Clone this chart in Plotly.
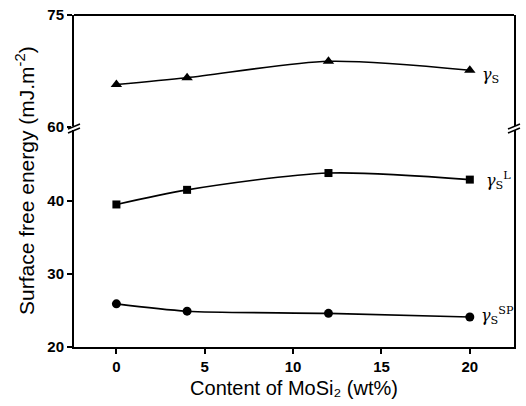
import plotly.graph_objects as go

# Data
content = [0, 4, 12, 20]
gamma_s = [65.7, 66.6, 68.8, 67.6]
gamma_sL = [39.5, 41.5, 43.8, 42.9]
gamma_sSP = [25.9, 24.9, 24.6, 24.1]

x_ticks = [0, 5, 10, 15, 20]
y_low_ticks = [20, 30, 40]
y_up_ticks = [60, 75]

D = 0.6627  # break position (paper)

fig = go.Figure()
line = dict(color="black", width=1.6, shape="spline", smoothing=0.8)
fig.add_trace(go.Scatter(x=content, y=gamma_s, mode="lines+markers", yaxis="y2",
                         line=line, marker=dict(symbol="triangle-up", size=10, color="black")))
fig.add_trace(go.Scatter(x=content, y=gamma_sL, mode="lines+markers",
                         line=line, marker=dict(symbol="square", size=8, color="black")))
fig.add_trace(go.Scatter(x=content, y=gamma_sSP, mode="lines+markers",
                         line=line, marker=dict(symbol="circle", size=9, color="black")))

tickfont = dict(family="Liberation Sans", size=15, color="black", weight="bold")
ax_common = dict(showline=True, linecolor="black", linewidth=2, showgrid=False, zeroline=False,
                 ticks="outside", ticklen=5, tickwidth=1.5, tickcolor="black", tickfont=tickfont,
                 automargin=False)

fig.update_layout(
    width=526, height=406,
    margin=dict(l=74, r=12, t=15, b=59, autoexpand=False),
    paper_bgcolor="white", plot_bgcolor="white",
    showlegend=False,
    xaxis=dict(range=[-2.4, 22.5], tickvals=x_ticks, anchor="y", mirror=False,
               title=dict(text="Content of MoSi₂ (wt%)",
                          font=dict(family="Liberation Sans", size=20, color="black"), standoff=7),
               **ax_common),
    yaxis=dict(domain=[0, D], range=[20, 50.1], tickvals=y_low_ticks, anchor="x", mirror=True, **ax_common),
    yaxis2=dict(domain=[D, 1], range=[60, 75], tickvals=y_up_ticks, anchor="x", mirror=True, **ax_common),
)

# Y title centered across both segments
fig.add_annotation(text="Surface free energy (mJ.m<sup>-2</sup>)", xref="paper", yref="paper",
                   x=0, y=0.5, xshift=-49, xanchor="center", yanchor="middle", textangle=-90,
                   showarrow=False, font=dict(family="Liberation Sans", size=21, color="black"))

# Series labels
lab_font = dict(family="DejaVu Serif", size=16, color="black")
fig.add_annotation(text="<i>γ</i><sub>S</sub>", x=20.6, y=gamma_s[-1], yref="y2", xref="x",
                   xanchor="left", yanchor="middle", yshift=-5, showarrow=False, font=lab_font)
fig.add_annotation(text="<i>γ</i><sub>S</sub><sup>L</sup>", x=20.8, y=gamma_sL[-1], yref="y", xref="x",
                   xanchor="left", yanchor="middle", yshift=-1, showarrow=False, font=lab_font)
fig.add_annotation(text="<i>γ</i><sub>S</sub><sup>SP</sup>", x=20.5, y=gamma_sSP[-1], yref="y", xref="x",
                   xanchor="left", yanchor="middle", yshift=2, showarrow=False, font=lab_font)

# Top frame line
fig.add_shape(type="line", xref="paper", yref="paper", x0=0, x1=1, y0=1, y1=1,
              line=dict(color="black", width=2))

# Break marks on both vertical axes
for xa in (0, 1):
    fig.add_shape(type="rect", xref="paper", yref="paper", xsizemode="pixel", ysizemode="pixel",
                  xanchor=xa, yanchor=D, x0=-3, x1=3, y0=-3, y1=1,
                  fillcolor="white", line=dict(width=0))
    for dy in (0, -4):
        fig.add_shape(type="line", xref="paper", yref="paper", xsizemode="pixel", ysizemode="pixel",
                      xanchor=xa, yanchor=D, x0=-6, x1=6, y0=-2 + dy, y1=3 + dy,
                      line=dict(color="black", width=1.5))

fig.write_html("out.html", config={"displayModeBar": False},
               post_script="document.body.style.margin='0';document.body.style.overflow='hidden';")
